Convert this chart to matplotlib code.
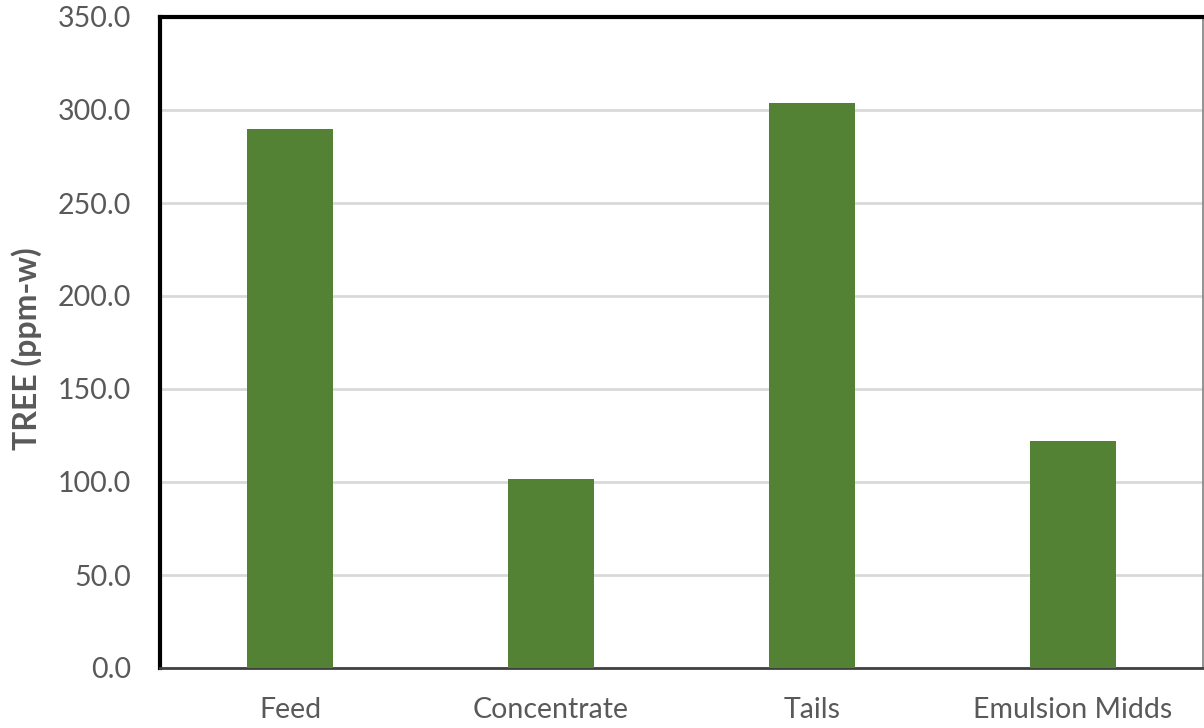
import matplotlib
matplotlib.use("Agg")
import matplotlib.pyplot as plt

categories = ["Feed", "Concentrate", "Tails", "Emulsion Midds"]
tree_ppm = [290.0, 101.5, 303.5, 122.0]
y_ticks = [0, 50, 100, 150, 200, 250, 300, 350]

plt.rcParams["font.family"] = ["Lato", "DejaVu Sans"]

fig = plt.figure(figsize=(12.04, 7.28), dpi=100)
ax = fig.add_axes([160 / 1204, 60 / 728, 1043 / 1204, 651 / 728])

ax.bar(range(len(categories)), tree_ppm, width=0.33, color="#548235", zorder=3)

ax.set_xlim(-0.5, len(categories) - 0.5)
ax.set_ylim(0, 350)
ax.set_yticks(y_ticks)
ax.set_yticklabels([f"{v:.1f}" for v in y_ticks])
ax.set_xticks(range(len(categories)))
ax.set_xticklabels(categories)

ax.yaxis.grid(True, color="#d9d9d9", linewidth=2, zorder=0)
ax.tick_params(axis="both", length=0, labelsize=20.5, labelcolor="#595959")
ax.tick_params(axis="y", pad=21)
ax.tick_params(axis="x", pad=21)

ax.set_ylabel("TREE (ppm-w)", fontsize=23, fontweight="bold", color="#595959")
ax.yaxis.set_label_coords(-118 / 1043, 0.49)

ax.spines["top"].set_color("black")
ax.spines["top"].set_linewidth(3)
ax.spines["left"].set_color("black")
ax.spines["left"].set_linewidth(3)
ax.spines["bottom"].set_color("#404040")
ax.spines["bottom"].set_linewidth(2)
ax.spines["right"].set_color("#808080")
ax.spines["right"].set_linewidth(1.2)

fig.savefig("out.png", dpi=100)
